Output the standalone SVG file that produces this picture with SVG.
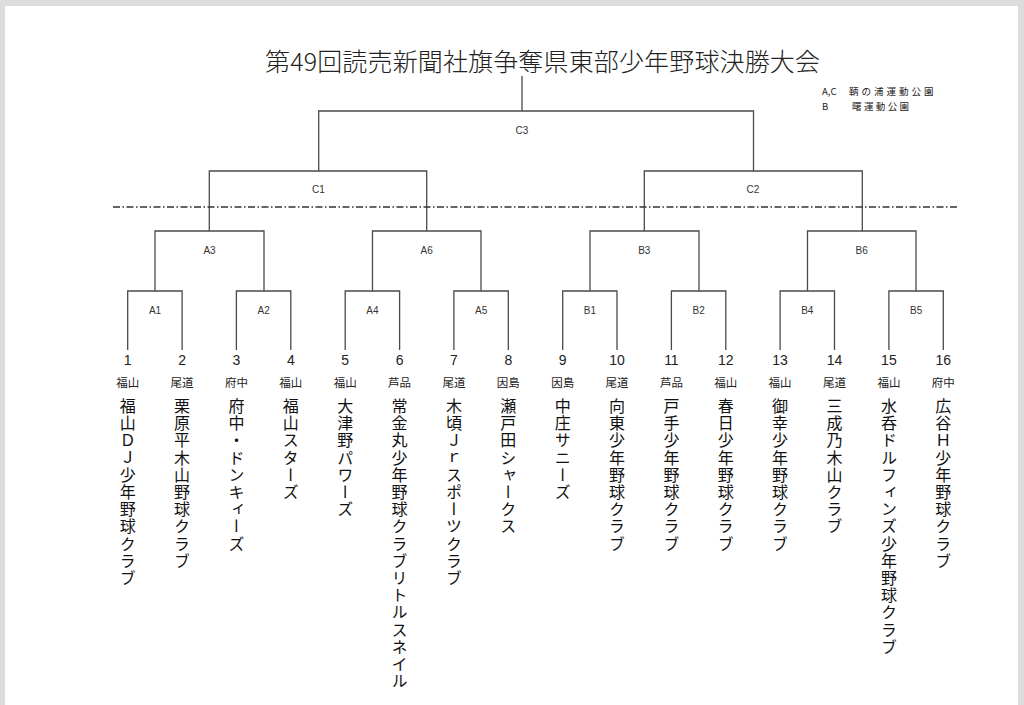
<svg xmlns="http://www.w3.org/2000/svg" width="1024" height="705" viewBox="0 0 1024 705">
<defs>
<style>
.ln{fill:none;stroke:#4a4a4a;stroke-width:1.3}
.rd{font-family:"Liberation Sans","DejaVu Sans",sans-serif;font-size:10px;fill:#333;text-anchor:middle}
.num{font-family:"Liberation Sans","DejaVu Sans",sans-serif;font-size:14px;fill:#222;text-anchor:middle}
.reg{font-family:"Noto Sans CJK JP",sans-serif;font-size:11.5px;fill:#222;text-anchor:middle}
.team{font-family:"Noto Sans CJK JP",sans-serif;font-size:16px;fill:#111;writing-mode:vertical-rl;letter-spacing:1.2px}
.leg{font-family:"Noto Sans CJK JP",sans-serif;font-size:9.5px;fill:#222}
</style>
</defs>
<rect x="0" y="0" width="1024" height="705" fill="#dcdcdc"/>
<rect x="5" y="6" width="1013" height="700" fill="#ffffff"/>
<text id="title" x="265" y="71" textLength="555" lengthAdjust="spacing" style="font-family:'Noto Sans CJK JP',sans-serif;font-size:25px;font-weight:300;fill:#222">第49回読売新聞社旗争奪県東部少年野球決勝大会</text>
<g id="legend">
<text class="leg" x="822" y="95">A,C</text>
<text class="leg" x="849" y="95" letter-spacing="3">鞆の浦運動公園</text>
<text class="leg" x="822" y="109.5">B</text>
<text class="leg" x="852" y="109.5" letter-spacing="2.4">曙運動公園</text>
</g>
<g id="connectors">
<path class="ln" d="M522 76V111M318.7 171V111H753.5V171"/>
<path class="ln" d="M209.3 231V171H426.7V231M644.3 231V171H862.3V231"/>
<path class="ln" d="M155 291V231H264V291M372.5 291V231H481V291M590 291V231H699V291M807.5 291V231H916V291"/>
<path class="ln" d="M127.7 350V291H182.1V350M236.4 350V291H290.8V350M345.2 350V291H399.6V350M453.9 350V291H508.3V350M562.7 350V291H617V350M671.4 350V291H725.8V350M780.1 350V291H834.5V350M888.9 350V291H943.3V350"/>
<line x1="113" y1="207" x2="957" y2="207" stroke="#333" stroke-width="1.5" stroke-dasharray="7 2.5 1.5 2.5"/>
</g>
<g id="rounds">
<text class="rd" x="522" y="133.5">C3</text>
<text class="rd" x="318.5" y="192.5">C1</text>
<text class="rd" x="753" y="192.5">C2</text>
<text class="rd" x="209.5" y="253.5">A3</text>
<text class="rd" x="426.7" y="253.5">A6</text>
<text class="rd" x="644.3" y="253.5">B3</text>
<text class="rd" x="861.7" y="253.5">B6</text>
<text class="rd" x="155" y="313.5">A1</text>
<text class="rd" x="263.6" y="313.5">A2</text>
<text class="rd" x="372.4" y="313.5">A4</text>
<text class="rd" x="481.1" y="313.5">A5</text>
<text class="rd" x="589.9" y="313.5">B1</text>
<text class="rd" x="698.6" y="313.5">B2</text>
<text class="rd" x="807.3" y="313.5">B4</text>
<text class="rd" x="916.1" y="313.5">B5</text>
</g>
<g id="team1"><text class="num" x="127.7" y="365">1</text><text class="reg" x="127.7" y="386.5">福山</text><text class="team" x="127.7" y="398">福山ＤＪ少年野球クラブ</text></g>
<g id="team2"><text class="num" x="182.1" y="365">2</text><text class="reg" x="182.1" y="386.5">尾道</text><text class="team" x="182.1" y="398">栗原平木山野球クラブ</text></g>
<g id="team3"><text class="num" x="236.4" y="365">3</text><text class="reg" x="236.4" y="386.5">府中</text><text class="team" x="236.4" y="398">府中・ドンキィーズ</text></g>
<g id="team4"><text class="num" x="290.8" y="365">4</text><text class="reg" x="290.8" y="386.5">福山</text><text class="team" x="290.8" y="398">福山スターズ</text></g>
<g id="team5"><text class="num" x="345.2" y="365">5</text><text class="reg" x="345.2" y="386.5">福山</text><text class="team" x="345.2" y="398">大津野パワーズ</text></g>
<g id="team6"><text class="num" x="399.6" y="365">6</text><text class="reg" x="399.6" y="386.5">芦品</text><text class="team" x="399.6" y="398">常金丸少年野球クラブリトルスネイル</text></g>
<g id="team7"><text class="num" x="453.9" y="365">7</text><text class="reg" x="453.9" y="386.5">尾道</text><text class="team" x="453.9" y="398">木頃Ｊｒスポーツクラブ</text></g>
<g id="team8"><text class="num" x="508.3" y="365">8</text><text class="reg" x="508.3" y="386.5">因島</text><text class="team" x="508.3" y="398">瀬戸田シャークス</text></g>
<g id="team9"><text class="num" x="562.7" y="365">9</text><text class="reg" x="562.7" y="386.5">因島</text><text class="team" x="562.7" y="398">中庄サニーズ</text></g>
<g id="team10"><text class="num" x="617" y="365">10</text><text class="reg" x="617" y="386.5">尾道</text><text class="team" x="617" y="398">向東少年野球クラブ</text></g>
<g id="team11"><text class="num" x="671.4" y="365">11</text><text class="reg" x="671.4" y="386.5">芦品</text><text class="team" x="671.4" y="398">戸手少年野球クラブ</text></g>
<g id="team12"><text class="num" x="725.8" y="365">12</text><text class="reg" x="725.8" y="386.5">福山</text><text class="team" x="725.8" y="398">春日少年野球クラブ</text></g>
<g id="team13"><text class="num" x="780.1" y="365">13</text><text class="reg" x="780.1" y="386.5">福山</text><text class="team" x="780.1" y="398">御幸少年野球クラブ</text></g>
<g id="team14"><text class="num" x="834.5" y="365">14</text><text class="reg" x="834.5" y="386.5">尾道</text><text class="team" x="834.5" y="398">三成乃木山クラブ</text></g>
<g id="team15"><text class="num" x="888.9" y="365">15</text><text class="reg" x="888.9" y="386.5">福山</text><text class="team" x="888.9" y="398">水呑ドルフィンズ少年野球クラブ</text></g>
<g id="team16"><text class="num" x="943.3" y="365">16</text><text class="reg" x="943.3" y="386.5">府中</text><text class="team" x="943.3" y="398">広谷Ｈ少年野球クラブ</text></g>
</svg>
